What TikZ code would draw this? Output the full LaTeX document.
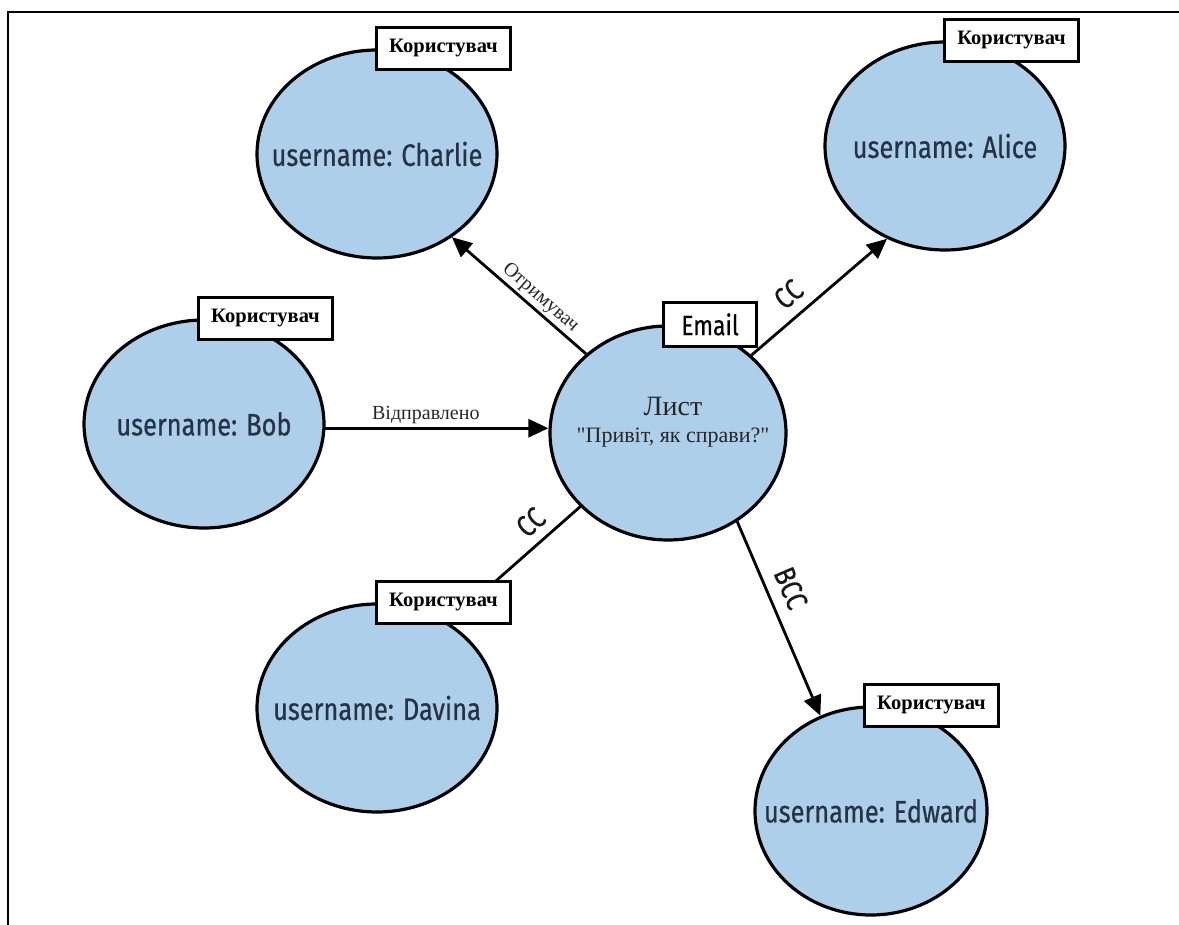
\documentclass[tikz,border=0pt]{standalone}
\usepackage{fontspec}
\setmainfont[Ligatures=TeXOff]{Liberation Serif}
\newfontfamily\condsans[FakeStretch=0.82,FakeBold=0.6]{Fira Sans}
\usetikzlibrary{arrows.meta,shapes.geometric}
\definecolor{nodeblue}{RGB}{174,207,233}
\definecolor{navytext}{RGB}{38,50,70}
\newcommand{\zw}[1]{\makebox[0pt]{#1}}
\begin{document}
\begin{tikzpicture}[x=1pt,y=-1pt,
  user/.style={ellipse, draw=black, line width=3.2pt, fill=nodeblue,
    minimum width=240pt, minimum height=208pt, inner sep=0pt,
    font=\condsans\fontsize{31}{36}\selectfont, text=navytext},
  tag/.style={rectangle, draw=black, line width=3pt, fill=white,
    minimum width=134pt, minimum height=42pt, inner sep=0pt,
    font=\bfseries\fontsize{20.5}{23}\selectfont, anchor=west},
  link/.style={line width=2.8pt, draw=black},
  arr/.style={link, -{Triangle[length=20pt,width=18pt]}},
  elabel/.style={font=\fontsize{20}{23}\selectfont, text=black!85},
  clabel/.style={font=\condsans\fontsize{30}{34}\selectfont, text=black!90, inner xsep=2pt}]
\useasboundingbox (0,0) rectangle (1179,925);
\draw[line width=2pt] (8,925) -- (8,12) -- (1179,12);

\node[user] (Charlie) at (377,154) {\zw{username: Charlie}};
\node[user] (Alice) at (945,146) {\zw{username: Alice}};
\node[user] (Bob) at (204,424) {\zw{username: Bob}};
\node[user] (Davina) at (377,708) {\zw{username: Davina}};
\node[user, minimum width=232pt] (Edward) at (871,811) {\zw{username: Edward}};
\node[user, minimum width=236pt, minimum height=214pt] (Email) at (668,433) {};
\node[align=center, text=black!85, font=\fontsize{22}{27}\selectfont] (EmailText) at (673,422)
  {{\fontsize{28}{30}\selectfont Лист}\\"Привіт, як справи?"};

\draw[arr] (Email.136) -- (Charlie.-48)
  node[elabel, sloped, above, pos=0.4, inner sep=2pt] {Отримувач};
\draw[arr] (Email.43) -- (Alice.238)
  node[clabel, sloped, above, pos=0.38, inner ysep=10pt] {CC};
\draw[link] (Email.220) -- (Davina.50)
  node[clabel, sloped, above, pos=0.27, inner ysep=9pt] {CC};
\draw[arr] (Email.-52) -- (Edward.118)
  node[clabel, sloped, above, pos=0.39, inner ysep=11pt] {BCC};
\draw[arr] (Bob.-2) -- (Bob.-2 -| Email.west)
  node[elabel, above, pos=0.45, inner sep=3pt] {Відправлено};

\node[tag, xshift=-2pt] (CharlieTag) at (Charlie.north) {Користувач};
\node[tag, xshift=-2pt] (AliceTag) at (Alice.north) {Користувач};
\node[tag, xshift=-7pt] (BobTag) at (Bob.north) {Користувач};
\node[tag, xshift=-2pt] (DavinaTag) at (Davina.north) {Користувач};
\node[tag, xshift=-8pt] (EdwardTag) at (Edward.north) {Користувач};
\node[tag, minimum width=93pt, minimum height=44pt, xshift=-6pt,
  font=\condsans\fontsize{28}{30}\selectfont] (EmailTag) at (Email.north) {Email};
\end{tikzpicture}
\end{document}
